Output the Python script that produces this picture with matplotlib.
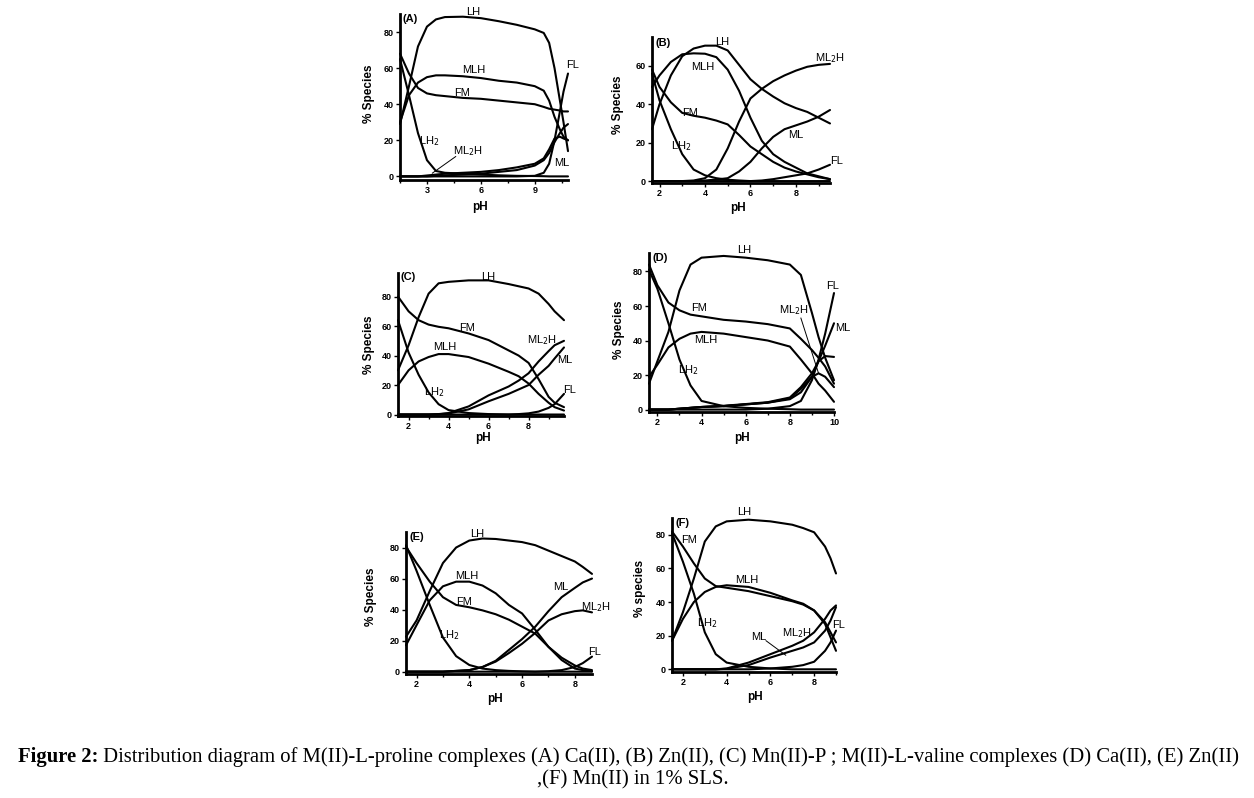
import matplotlib.pyplot as plt
from matplotlib.ticker import MultipleLocator

# ---- data (% species vs pH) ----
# (A) Ca(II)-L-proline
A_ph = [1.5, 2, 2.5, 3, 3.5, 4, 5, 6, 7, 8, 9, 9.5, 9.8, 10.1, 10.4, 10.6, 10.85]
A_LH = [29, 50, 72, 83, 87, 88.3, 88.5, 87.7, 86, 84, 81.5, 79.5, 74, 60, 42, 30, 14]
A_MLH = [30, 45, 52, 55, 56, 56, 55.5, 54.5, 53, 52, 50, 47.5, 42, 33, 26, 22, 20]
A_FM = [68, 57, 49, 46, 45, 44.5, 43.5, 43, 42, 41, 40, 38.5, 37.5, 37, 36.5, 36, 36]
A_LH2 = [65, 45, 24, 9, 3, 2, 1.5, 1, 0.6, 0.3, 0.2, 0.1, 0, 0, 0, 0, 0]
A_ML = [0, 0, 0, 0, 0.3, 0.6, 1, 1.5, 2.5, 3.5, 6, 9, 13, 19, 24, 27, 29]
A_ML2H = [0, 0, 0, 0.5, 1, 1.5, 2, 2.5, 3.5, 5, 7, 10, 15, 21, 22, 21, 20]
A_FL = [0, 0, 0, 0, 0, 0, 0, 0, 0, 0, 0.3, 2, 7, 20, 36, 47, 57]

# (B) Zn(II)-L-proline
B_ph = [1.67, 2, 2.5, 3, 3.5, 4, 4.5, 5, 5.5, 6, 6.5, 7, 7.5, 8, 8.5, 9, 9.5]
B_LH = [27, 40, 55, 65, 69, 70.5, 70.5, 68, 60.5, 53, 48, 44, 40.5, 38, 36, 33, 30]
B_MLH = [49, 55, 62, 66, 66.5, 66.3, 64.5, 58, 47, 33, 21, 14, 10, 7, 4, 2.5, 1]
B_FM = [58, 49, 41, 35.5, 34, 33, 31.5, 29.5, 24, 18, 14, 10, 7, 5, 3.5, 2, 1]
B_LH2 = [56, 42, 27, 14, 6, 3, 1.5, 0.7, 0.3, 0, 0, 0, 0, 0, 0, 0, 0]
B_ML2H = [0, 0, 0, 0, 0.3, 1.5, 6, 17, 31, 43, 48, 52, 55, 57.5, 59.5, 60.5, 61]
B_ML = [0, 0, 0, 0, 0, 0.3, 0.8, 1.5, 5, 10, 17, 23, 27, 29, 31, 33.5, 37]
B_FL = [0, 0, 0, 0, 0, 0, 0, 0, 0, 0, 0.3, 1, 2, 3, 4, 6, 8.5]

# (C) Mn(II)-L-proline
C_ph = [1.47, 2, 2.5, 3, 3.5, 4, 5, 6, 7, 7.5, 8, 8.5, 9, 9.3, 9.77]
C_LH = [30, 47, 66, 82, 89, 90, 91, 91, 88.5, 87, 85.5, 82, 75, 70, 64]
C_FM = [80, 70, 64, 61, 59.5, 58.5, 55, 50.5, 43.5, 40, 35, 24, 12, 8, 5]
C_MLH = [20, 30, 36, 39, 41, 41, 39, 34.5, 29, 26, 21, 14, 8, 5, 2.7]
C_LH2 = [64, 42, 27, 15, 7, 3, 1, 0.3, 0, 0, 0, 0, 0, 0, 0]
C_ML2H = [0, 0, 0, 0, 0.3, 1, 5.5, 13, 19, 23, 28, 36, 43, 47, 50]
C_ML = [0, 0, 0, 0, 0.2, 0.7, 3.5, 9, 14, 17, 20, 27, 33, 38, 45.5]
C_FL = [0, 0, 0, 0, 0, 0, 0, 0, 0, 0.3, 0.8, 2, 4.5, 7, 14]

# (D) Ca(II)-L-valine
D_ph = [1.62, 2, 2.5, 3, 3.5, 4, 5, 6, 7, 8, 8.5, 9, 9.3, 9.6, 10]
D_LH = [15, 28, 45, 69, 84, 88, 89, 88, 86.5, 84, 78, 56, 42, 30, 17]
D_FM = [84, 72, 62, 57.5, 55, 54, 52, 51, 49.5, 47, 41, 34.5, 30, 25, 15]
D_MLH = [19, 26, 36, 41, 44, 45, 44, 42, 40, 36.5, 29, 21, 15, 11, 4.5]
D_LH2 = [81, 70, 50, 29, 14, 5, 2, 1, 0.5, 0.2, 0, 0, 0, 0, 0]
D_ML2H = [0, 0, 0, 0.5, 1, 1.5, 2, 3, 4, 6.5, 12, 19, 21, 19, 13]
D_MOH = [0, 0, 0, 0.5, 1, 1.5, 2.2, 3.2, 4.3, 7, 13, 21, 28, 31, 30.5]
D_ML = [0, 0, 0, 0.5, 1, 1.5, 2, 3, 4, 6, 10, 19, 28, 37, 50]
D_FL = [0, 0, 0, 0, 0, 0, 0, 0, 0.5, 2, 5, 17, 29, 44, 67.5]

# (E) Zn(II)-L-valine
E_ph = [1.6, 2, 2.5, 3, 3.5, 4, 4.5, 5, 5.5, 6, 6.5, 7, 7.5, 8, 8.3, 8.65]
E_LH = [22.5, 33, 52, 70, 80, 84.5, 85.8, 85.5, 84.5, 83.5, 81.5, 78, 74.5, 71, 67.5, 63]
E_MLH = [17, 30, 46, 55, 58, 58, 55.5, 50.5, 43, 37.5, 27, 16, 7.5, 2, 1, 0.3]
E_FM = [80.5, 70, 58, 48, 43, 41.5, 39.5, 37, 33.5, 29, 24.5, 16, 9, 4, 2, 1]
E_LH2 = [81.5, 65, 43, 22, 10, 4.3, 2, 1, 0.5, 0.2, 0, 0, 0, 0, 0, 0]
E_ML = [0, 0, 0, 0, 0.5, 1, 3, 7, 14, 21, 29, 39, 48, 54, 57.5, 60]
E_ML2H = [0, 0, 0, 0, 0.5, 1, 3, 6.5, 12, 18, 25, 33, 37, 39, 39.5, 38.2]
E_FL = [0, 0, 0, 0, 0, 0, 0, 0, 0, 0, 0, 0.3, 1, 3, 5.5, 9.7]

# (F) Mn(II)-L-valine
F_ph = [1.5, 2, 2.5, 3, 3.5, 4, 5, 6, 7, 7.5, 8, 8.5, 8.75, 9]
F_LH = [17, 34, 54, 76, 85, 88, 89, 88, 86, 84, 81.5, 73, 66, 57]
F_FM = [82, 73, 63, 54, 49.5, 48.5, 46.5, 43.5, 40.5, 38.5, 35, 27, 19, 11]
F_MLH = [17, 30, 40, 46, 49, 50, 49, 45.5, 41, 39, 35, 28, 22, 16]
F_LH2 = [81, 64, 45, 22, 9, 4, 1.5, 0.5, 0, 0, 0, 0, 0, 0]
F_ML = [0, 0, 0, 0, 0, 0.5, 4, 9, 14, 17, 22, 30, 35, 38]
F_ML2H = [0, 0, 0, 0, 0, 0.3, 2.5, 7, 11, 13, 16, 23, 29, 37]
F_FL = [0, 0, 0, 0, 0, 0, 0, 0.5, 1.5, 2.5, 4.5, 11, 16, 23]

caption1 = ("Distribution diagram of M(II)-L-proline complexes (A) Ca(II), (B) Zn(II), "
            "(C) Mn(II)-P ; M(II)-L-valine complexes (D) Ca(II), (E) Zn(II)")
caption2 = ",(F) Mn(II) in 1% SLS."

W, H = 1254, 798
fig = plt.figure(figsize=(W / 100, H / 100), dpi=100)
fig.patch.set_facecolor('white')

SANS = ['Liberation Sans', 'DejaVu Sans']


def add_panel(box, xlim, ylim, xmajor, xminor, ymax_tick, ph, series, labels,
              tag, ylab_xy, xlab_xy, ylab='% Species'):
    left, right, top, bottom = box
    ax = fig.add_axes([left / W, 1 - bottom / H, (right - left) / W, (bottom - top) / H])
    for vals in series:
        ax.plot(ph, vals, color='black', lw=1.5, solid_joinstyle='round',
                solid_capstyle='round', clip_on=False)
    ax.set_xlim(*xlim)
    ax.set_ylim(*ylim)
    for s in ('top', 'right'):
        ax.spines[s].set_visible(False)
    for s in ('left', 'bottom'):
        ax.spines[s].set_linewidth(2)
    ax.xaxis.set_major_locator(MultipleLocator(xmajor))
    ax.xaxis.set_minor_locator(MultipleLocator(xminor))
    ax.set_yticks(range(0, ymax_tick + 1, 20))
    ax.tick_params(which='both', direction='out', length=3, width=1, pad=1.5)
    ax.tick_params(which='minor', length=2)
    for t in ax.get_xticklabels() + ax.get_yticklabels():
        t.set_fontsize(6.5)
        t.set_fontweight('bold')
        t.set_family(SANS)
    ax.patch.set_alpha(0)
    for (txt, x, y) in labels:
        ax.text(x, y, txt, fontsize=8, family=SANS, ha='center', va='center',
                clip_on=False)
    ax.text(xlim[0] + 0.15, ylim[1] - 3, tag, fontsize=8, family=SANS,
            ha='left', va='center', fontweight='bold')
    fig.text(ylab_xy[0] / W, 1 - ylab_xy[1] / H, ylab, rotation=90, fontsize=8.5,
             fontweight='bold', family=SANS, ha='center', va='center')
    fig.text(xlab_xy[0] / W, 1 - xlab_xy[1] / H, 'pH', fontsize=8.5,
             fontweight='bold', family=SANS, ha='center', va='center')
    return ax


axA = add_panel((400, 568, 14, 180), (1.5, 10.85), (-2, 90), 3, 1.5, 80, A_ph,
                [A_LH, A_MLH, A_FM, A_LH2, A_ML, A_ML2H, A_FL],
                [('LH', 5.6, 91), ('MLH', 5.6, 59), ('FM', 4.95, 46),
                 ('LH$_2$', 3.1, 19.5), ('ML$_2$H', 5.3, 14), ('FL', 11.1, 62),
                 ('ML', 10.5, 7.4)],
                '(A)', (369, 94), (480, 207))
axA.plot([4.6, 3.3], [11, 1.8], color='black', lw=0.7)

add_panel((652, 830, 37, 183), (1.67, 9.5), (-1, 75), 2, 1, 60, B_ph,
          [B_LH, B_MLH, B_FM, B_LH2, B_ML2H, B_ML, B_FL],
          [('LH', 4.75, 72.5), ('MLH', 3.9, 59.5), ('FM', 3.35, 35.6),
           ('LH$_2$', 2.95, 18.3), ('ML$_2$H', 9.5, 63.8), ('ML', 7.98, 24),
           ('FL', 9.8, 10.2)],
          '(B)', (618, 105), (738, 208))

add_panel((398, 564, 273, 416), (1.47, 9.77), (-1, 96), 2, 1, 80, C_ph,
          [C_LH, C_FM, C_MLH, C_LH2, C_ML2H, C_ML, C_FL],
          [('LH', 5.97, 93.6), ('FM', 4.9, 58.4), ('MLH', 3.8, 45.5),
           ('LH$_2$', 3.3, 15.2), ('ML$_2$H', 8.65, 50.5), ('ML', 9.8, 36.8),
           ('FL', 10.05, 16.4)],
          '(C)', (369, 345), (483, 438))

axD = add_panel((649, 834, 253, 412), (1.62, 10), (-1.4, 90.7), 2, 1, 80, D_ph,
                [D_LH, D_FM, D_MLH, D_LH2, D_ML2H, D_MOH, D_ML, D_FL],
                [('LH', 5.94, 92.6), ('FM', 3.9, 58.7), ('MLH', 4.2, 40.3),
                 ('LH$_2$', 3.4, 22.9), ('ML$_2$H', 8.2, 57.8), ('FL', 9.93, 71.3),
                 ('ML', 10.4, 47)],
                '(D)', (619, 330), (742, 438))
axD.plot([8.5, 9.3], [53, 21], color='black', lw=0.7)

add_panel((406, 592, 532, 674), (1.6, 8.65), (-1.5, 90), 2, 1, 80, E_ph,
          [E_LH, E_MLH, E_FM, E_LH2, E_ML, E_ML2H, E_FL],
          [('LH', 4.3, 89), ('MLH', 3.92, 61.6), ('FM', 3.8, 45),
           ('LH$_2$', 3.25, 23.6), ('ML', 7.47, 54.7), ('ML$_2$H', 8.8, 41.8),
           ('FL', 8.73, 12.9)],
          '(E)', (371, 597), (495, 699))

axF = add_panel((672, 836, 518, 672), (1.5, 9.0), (-1.6, 90), 2, 1, 80, F_ph,
                [F_LH, F_FM, F_MLH, F_LH2, F_ML, F_ML2H, F_FL],
                [('LH', 4.78, 93.3), ('FM', 2.26, 77), ('MLH', 4.93, 53),
                 ('LH$_2$', 3.1, 27.3), ('ML', 5.47, 19.3), ('ML$_2$H', 7.2, 21.3),
                 ('FL', 9.13, 26.3)],
                '(F)', (640, 588), (755, 697), ylab='% species')
axF.plot([5.8, 6.7], [17, 8.4], color='black', lw=0.7)

# ---- caption ----
renderer = fig.canvas.get_renderer()
fs = 14
t_bold = fig.text(18 / W, 1 - 757 / H, 'Figure 2:', fontsize=fs, fontweight='bold',
                  family=['Liberation Serif', 'DejaVu Serif'], ha='left', va='center')
t_rest = fig.text(0, 1 - 757 / H, ' ' + caption1, fontsize=fs,
                  family=['Liberation Serif', 'DejaVu Serif'], ha='left', va='center')
wb = t_bold.get_window_extent(renderer).width
wr = t_rest.get_window_extent(renderer).width
scale = (1247 - 18) / (wb + wr)
fs = fs * scale
t_bold.set_fontsize(fs)
t_rest.set_fontsize(fs)
wb = t_bold.get_window_extent(renderer).width
t_rest.set_x((18 + wb) / W)
fig.text(633 / W, 1 - 780 / H, caption2, fontsize=fs,
         family=['Liberation Serif', 'DejaVu Serif'], ha='center', va='center')

fig.savefig('out.png', dpi=100)
